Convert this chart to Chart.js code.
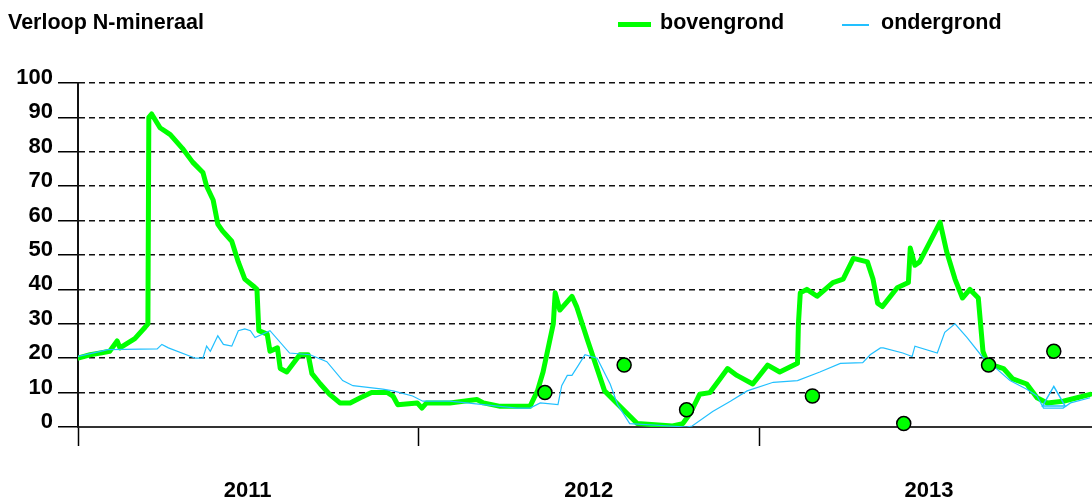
<!DOCTYPE html>
<html>
<head>
<meta charset="utf-8">
<script src="https://cdn.jsdelivr.net/npm/chart.js@4.4.0/dist/chart.umd.min.js"></script>
<style>
  body { margin: 0; background: #fff; }
  #wrap { position: relative; width: 1092px; height: 499px; }
  .txt { position: absolute; font: bold 21.5px "Liberation Sans", Arial, sans-serif; line-height: 22px; color: #000; white-space: nowrap; }
  .sw { position: absolute; }
</style>
</head>
<body>
<div id="wrap">
  <canvas id="nmin" width="1092" height="499"></canvas>
  <div class="txt" style="left:8px;top:11px;">Verloop N-mineraal</div>
  <div class="sw" style="left:618px;top:22px;width:33px;height:5px;background:#00ff00;"></div>
  <div class="txt" style="left:660px;top:11px;">bovengrond</div>
  <div class="sw" style="left:842px;top:24px;width:27px;height:1.5px;background:#22c0ff;"></div>
  <div class="txt" style="left:881px;top:11px;">ondergrond</div>
</div>
<script>
// x = dagen sinds 1 jan 2011, y = N-mineraal
var jaren = ['2011', '2012', '2013'];
var jaarStart = [0, 365, 731];
var jaarMidden = [182, 548, 913];
var yTicks = [0, 10, 20, 30, 40, 50, 60, 70, 80, 90, 100];

var bovenDag = [0, 13, 24, 34, 42, 45, 61, 72, 75, 76, 79, 88, 99, 112, 123, 134, 138, 145, 150, 155,
  165, 172, 179, 188, 192, 194, 203, 206, 214, 217, 224, 238, 247, 251, 260, 270, 281, 292, 303, 315,
  332, 338, 343, 364, 369, 374, 399, 428, 435, 453, 485, 493, 499, 510, 512, 517, 530, 535, 547, 565,
  576, 600, 638, 649, 657, 667, 678, 689, 697, 707, 724, 740, 753, 772, 773, 775, 782, 793, 810, 821,
  832, 847, 853, 858, 863, 879, 891, 893, 898, 903, 925, 932, 941, 949, 957, 966, 971, 976, 993, 1003,
  1018, 1029, 1040, 1057, 1072, 1086];
var bovenN = [20, 21, 21.5, 22, 25, 23, 25.7, 29, 30, 90, 91, 87, 85, 81, 77, 74, 70, 66, 59, 57,
  54, 48, 43, 41, 40, 28, 27, 22, 23, 17, 16, 21, 21, 15.5, 12.5, 9.5, 7, 7, 8.5, 10,
  10, 9, 6.5, 7, 5.5, 7, 7, 8, 7, 6, 6, 10.5, 16, 30, 39, 34, 38, 35, 25, 10.5,
  7.5, 1, 0.3, 1, 4, 9.5, 10, 14, 17, 15, 12.5, 18, 16, 18.5, 30, 39, 40, 38, 42, 43,
  49, 48, 43, 36, 35, 40.5, 42, 52, 47, 48, 59.5, 51, 43, 37.5, 40, 37.5, 22, 18.5, 17, 14,
  12.5, 8.5, 7, 7.5, 8.5, 9.5];

var onderDag = [0, 24, 32, 85, 90, 97, 126, 134, 138, 142, 150, 156, 165, 172, 179, 185, 190, 206, 227, 249,
  267, 284, 295, 327, 338, 359, 370, 399, 435, 471, 485, 496, 515, 519, 525, 530, 537, 544, 557, 571,
  579, 592, 653, 659, 681, 700, 718, 746, 772, 796, 818, 842, 850, 861, 864, 885, 895, 898, 922, 930,
  941, 954, 970, 979, 1000, 1018, 1029, 1036, 1057, 1065, 1086];
var onderN = [20.5, 22, 22.5, 22.7, 24, 23, 20, 20, 23.5, 22, 26.5, 24, 23.5, 28, 28.5, 28, 26, 28, 21.5, 21,
  19, 13.5, 12, 11, 10.5, 9, 7.5, 7.5, 6.5, 5.5, 5.5, 7, 6.5, 12, 15, 15, 18, 21, 20, 12.5,
  6.5, 1, 0, 0.3, 4.5, 7.5, 10.5, 13, 13.5, 16, 18.5, 18.7, 21, 23, 23, 21.5, 20.5, 23.5, 21.5, 27.5,
  30, 26, 20.5, 18.5, 13.5, 11, 9, 5.5, 5.5, 7, 8.5];

// metingen
var metingDag = [501, 586, 653, 788, 886, 977, 1047];
var metingN = [10, 18, 5, 9, 1, 18, 22];
var onderMetingDag = [1047];
var onderMetingN = [8];

function punten(xs, ys) {
  return xs.map(function (x, i) { return { x: x, y: ys[i] }; });
}

var ctx = document.getElementById('nmin').getContext('2d');
var font = { family: '"Liberation Sans", Arial, sans-serif', size: 22, weight: 'bold' };

new Chart(ctx, {
  type: 'line',
  data: {
    datasets: [
      {
        label: 'meting bovengrond',
        data: punten(metingDag, metingN),
        showLine: false,
        pointRadius: 7,
        pointBackgroundColor: '#00ff00',
        pointBorderColor: '#000',
        pointBorderWidth: 1.5,
        clip: false,
        order: 0
      },
      {
        label: 'meting ondergrond',
        data: punten(onderMetingDag, onderMetingN),
        showLine: false,
        pointStyle: 'triangle',
        pointRadius: 13,
        pointBackgroundColor: 'rgba(0,0,0,0)',
        pointBorderColor: '#22c0ff',
        pointBorderWidth: 1.5,
        order: 1
      },
      {
        label: 'ondergrond',
        data: punten(onderDag, onderN),
        borderColor: '#22c0ff',
        borderWidth: 1.2,
        pointRadius: 0,
        tension: 0,
        order: 2
      },
      {
        label: 'bovengrond',
        data: punten(bovenDag, bovenN),
        borderColor: '#00ff00',
        borderWidth: 5,
        borderJoinStyle: 'round',
        borderCapStyle: 'round',
        pointRadius: 0,
        tension: 0,
        order: 3
      }
    ]
  },
  options: {
    responsive: false,
    animation: false,
    layout: { autoPadding: false, padding: { top: 83, left: 0, right: 0, bottom: 0 } },
    plugins: { legend: { display: false }, tooltip: { enabled: false } },
    scales: {
      x: {
        type: 'linear',
        min: 0,
        max: 1088,
        afterBuildTicks: function (scale) {
          scale.ticks = jaarStart.concat(jaarMidden).sort(function (a, b) { return a - b; })
            .map(function (v) { return { value: v }; });
        },
        afterFit: function (scale) {
          scale.height = 72;
          scale.paddingLeft = 0;
          scale.paddingRight = 0;
        },
        grid: {
          drawOnChartArea: false,
          tickLength: 19,
          tickWidth: 1.5,
          tickColor: function (c) { return jaarStart.indexOf(c.tick.value) >= 0 ? '#000' : 'rgba(0,0,0,0)'; }
        },
        border: { color: '#333', width: 2 },
        ticks: {
          autoSkip: false,
          maxRotation: 0,
          padding: 32,
          color: '#000',
          font: font,
          callback: function (v) {
            var i = jaarMidden.indexOf(v);
            return i >= 0 ? jaren[i] : '';
          }
        }
      },
      y: {
        min: 0,
        max: 100,
        afterBuildTicks: function (scale) {
          scale.ticks = yTicks.map(function (v) { return { value: v }; });
        },
        afterFit: function (scale) { scale.width = 78; },
        grid: {
          color: function (c) { return c.tick.value === 0 ? 'rgba(0,0,0,0)' : '#111'; },
          lineWidth: 1.5,
          tickLength: 20,
          tickColor: '#000',
          tickWidth: 1.5,
          tickBorderDash: []
        },
        border: { color: '#111', width: 2, dash: [6, 4] },
        ticks: {
          padding: 5,
          labelOffset: -5,
          color: '#000',
          font: font
        }
      }
    }
  }
});
</script>
</body>
</html>
